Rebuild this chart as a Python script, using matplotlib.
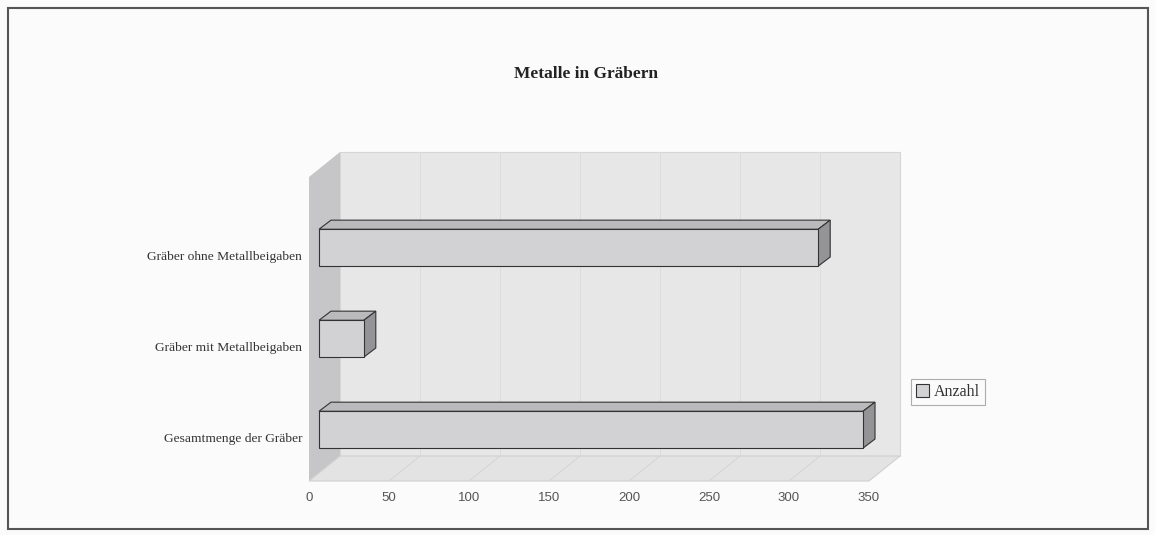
import matplotlib
matplotlib.use("Agg")
import matplotlib.pyplot as plt
from matplotlib.patches import Polygon, Rectangle

# ---- data ----
categories = ["Gesamtmenge der Gräber", "Gräber mit Metallbeigaben", "Gräber ohne Metallbeigaben"]
values = [340, 28, 312]
xticks = [0, 50, 100, 150, 200, 250, 300, 350]
title = "Metalle in Gräbern"
series_name = "Anzahl"

FW, FH = 1155, 535
fig = plt.figure(figsize=(FW / 100, FH / 100), dpi=100)
fig.patch.set_facecolor("#fbfbfb")

# front plane of the 3D box in pixel space
L, R, T, B = 309, 869, 177, 481
ax = fig.add_axes([L / FW, 1 - B / FH, (R - L) / FW, (B - T) / FH])
XMIN, XMAX = 0, 350
YMIN, YMAX = -0.48, 2.86
ax.set_xlim(XMIN, XMAX)
ax.set_ylim(YMIN, YMAX)
ax.patch.set_visible(False)
for s in ax.spines.values():
    s.set_visible(False)

ux = (XMAX - XMIN) / (R - L)
uy = (YMAX - YMIN) / (B - T)


def off(dxp, dyp):
    return dxp * ux, dyp * uy


DX, DY = off(31, 25)

# walls and floor
back = Polygon([(XMIN + DX, YMIN + DY), (XMAX + DX, YMIN + DY), (XMAX + DX, YMAX + DY), (XMIN + DX, YMAX + DY)],
               closed=True, facecolor="#e7e7e8", edgecolor="#d6d6d6", lw=0.8, clip_on=False, zorder=0)
left = Polygon([(XMIN, YMIN), (XMIN + DX, YMIN + DY), (XMIN + DX, YMAX + DY), (XMIN, YMAX)],
               closed=True, facecolor="#c6c6c8", edgecolor="none", clip_on=False, zorder=0.5)
floor = Polygon([(XMIN, YMIN), (XMAX, YMIN), (XMAX + DX, YMIN + DY), (XMIN + DX, YMIN + DY)],
                closed=True, facecolor="#e3e3e4", edgecolor="#d0d0d0", lw=0.8, clip_on=False, zorder=0.5)
for p in (back, left, floor):
    ax.add_patch(p)

# gridlines on back wall and floor
for t in xticks[1:-1]:
    ax.plot([t + DX, t + DX], [YMIN + DY, YMAX + DY], color="#dcdcdc", lw=0.7, zorder=0.6, clip_on=False)
    ax.plot([t, t + DX], [YMIN, YMIN + DY], color="#d4d4d4", lw=0.7, zorder=0.6, clip_on=False)

# bars (3D look)
fx, fy = off(10, 7.6)     # front face depth offset
bx, by = off(12, 9.1)     # bar depth
h = 0.405
front_col, top_col, side_col = "#d2d2d5", "#bababd", "#949497"
ypos = list(range(len(categories)))
bars = ax.barh([y + fy for y in ypos], values, left=fx, height=h, color=front_col,
               edgecolor="#333333", linewidth=0.8, zorder=3, label=series_name)
for y, v in zip(ypos, values):
    yc = y + fy
    top = Polygon([(fx, yc + h / 2), (fx + v, yc + h / 2), (fx + v + bx, yc + h / 2 + by), (fx + bx, yc + h / 2 + by)],
                  closed=True, facecolor=top_col, edgecolor="#333333", lw=0.8, zorder=2.9, clip_on=False)
    side = Polygon([(fx + v, yc - h / 2), (fx + v + bx, yc - h / 2 + by), (fx + v + bx, yc + h / 2 + by), (fx + v, yc + h / 2)],
                   closed=True, facecolor=side_col, edgecolor="#333333", lw=0.8, zorder=2.9, clip_on=False)
    ax.add_patch(top)
    ax.add_patch(side)

# axes labels
ax.set_xticks(xticks)
ax.set_xticklabels([str(t) for t in xticks], fontfamily="Liberation Sans", fontsize=9.5, color="#555555")
ax.set_yticks(ypos)
ax.set_yticklabels(categories, fontfamily="Liberation Serif", fontsize=9.7, color="#333333")
ax.tick_params(axis="x", length=0, pad=8)
ax.tick_params(axis="y", length=0, pad=5)

# title
fig.text(586 / FW, 1 - 74 / FH, title, ha="center", va="center", fontfamily="Liberation Serif",
         fontweight="bold", fontsize=12.5, color="#222222")

# legend
leg = fig.legend(handles=[bars], labels=[series_name], loc="center", bbox_to_anchor=(948 / FW, 1 - 392 / FH),
                 prop={"family": "Liberation Serif", "size": 11.5}, frameon=True, fancybox=False,
                 handlelength=0.8, handleheight=0.8, handletextpad=0.3, borderpad=0.3, borderaxespad=0)
leg.get_frame().set_edgecolor("#9a9a9a")
leg.get_frame().set_linewidth(0.8)
leg.get_frame().set_facecolor("#fbfbfb")
for tx in leg.get_texts():
    tx.set_color("#333333")

# outer frame
fig.patches.append(Rectangle((8 / FW, 1 - 529 / FH), (1148 - 8) / FW, (529 - 8) / FH, transform=fig.transFigure,
                             fill=False, edgecolor="#555555", lw=1.5, zorder=10))

fig.savefig("out.png", dpi=100, facecolor=fig.get_facecolor())
